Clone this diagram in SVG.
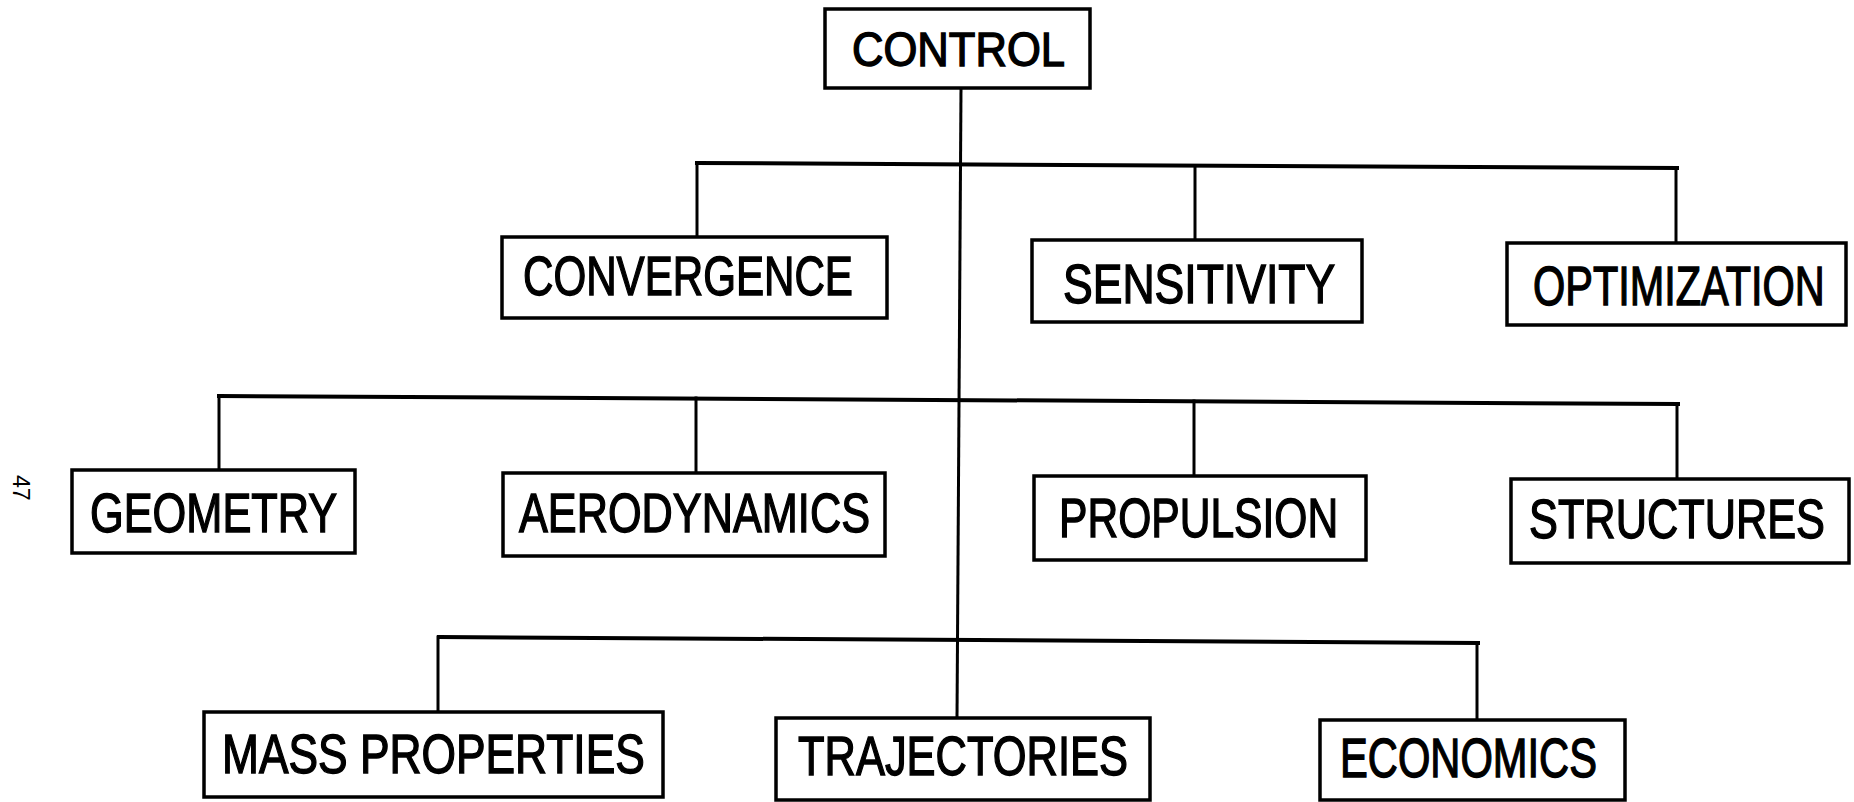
<svg xmlns="http://www.w3.org/2000/svg" width="1854" height="802" viewBox="0 0 1854 802">
<style>
.box{fill:#fff;stroke:#000;stroke-width:3.5}
.lbl{font-family:"Liberation Sans",Arial,sans-serif;font-size:55px;fill:#000;stroke:#000;stroke-width:1.4}
.ln{stroke:#000;stroke-width:3;fill:none;stroke-linecap:square}
.bus{stroke:#000;stroke-width:4;fill:none;stroke-linecap:square}
.pg{font-family:"Liberation Sans",Arial,sans-serif;font-size:23px;fill:#000}
</style>
<rect width="1854" height="802" fill="#fff"/>
<g id="connectors">
<line class="ln" x1="961" y1="88" x2="957" y2="718"/>
<line class="bus" x1="697" y1="163" x2="1677" y2="168"/>
<line class="ln" x1="697" y1="163" x2="697" y2="237"/>
<line class="ln" x1="1195" y1="166" x2="1195" y2="240"/>
<line class="ln" x1="1676" y1="168" x2="1676" y2="243"/>
<line class="bus" x1="219" y1="396" x2="1678" y2="404"/>
<line class="ln" x1="219" y1="396" x2="219" y2="470"/>
<line class="ln" x1="696" y1="398" x2="696" y2="473"/>
<line class="ln" x1="1194" y1="401" x2="1194" y2="476"/>
<line class="ln" x1="1677" y1="404" x2="1677" y2="479"/>
<line class="bus" x1="439" y1="637" x2="1478" y2="643"/>
<line class="ln" x1="438" y1="637" x2="438" y2="712"/>
<line class="ln" x1="1477" y1="643" x2="1477" y2="720"/>
</g>
<g id="control"><rect class="box" x="825" y="9" width="265" height="79"/><text class="lbl" style="font-size:48px" transform="translate(852,66) scale(0.9,1)" textLength="236.7" lengthAdjust="spacingAndGlyphs">CONTROL</text></g>
<g id="convergence"><rect class="box" x="502" y="237" width="385" height="81"/><text class="lbl" transform="translate(523,295) scale(0.78,1)" textLength="423" lengthAdjust="spacingAndGlyphs">CONVERGENCE</text></g>
<g id="sensitivity"><rect class="box" x="1032" y="240" width="330" height="82"/><text class="lbl" transform="translate(1063,303) scale(0.78,1)" textLength="349" lengthAdjust="spacingAndGlyphs">SENSITIVITY</text></g>
<g id="optimization"><rect class="box" x="1507" y="243" width="339" height="82"/><text class="lbl" transform="translate(1533,305) scale(0.78,1)" textLength="374" lengthAdjust="spacingAndGlyphs">OPTIMIZATION</text></g>
<g id="geometry"><rect class="box" x="72" y="470" width="283" height="83"/><text class="lbl" transform="translate(90,532) scale(0.78,1)" textLength="317" lengthAdjust="spacingAndGlyphs">GEOMETRY</text></g>
<g id="aerodynamics"><rect class="box" x="503" y="473" width="382" height="83"/><text class="lbl" transform="translate(519,532) scale(0.78,1)" textLength="450" lengthAdjust="spacingAndGlyphs">AERODYNAMICS</text></g>
<g id="propulsion"><rect class="box" x="1034" y="476" width="332" height="84"/><text class="lbl" transform="translate(1059,537) scale(0.78,1)" textLength="358" lengthAdjust="spacingAndGlyphs">PROPULSION</text></g>
<g id="structures"><rect class="box" x="1511" y="479" width="338" height="84"/><text class="lbl" transform="translate(1529,538) scale(0.78,1)" textLength="379.5" lengthAdjust="spacingAndGlyphs">STRUCTURES</text></g>
<g id="mass-properties"><rect class="box" x="204" y="712" width="459" height="85"/><text class="lbl" transform="translate(222,773) scale(0.78,1)" textLength="542" lengthAdjust="spacingAndGlyphs">MASS PROPERTIES</text></g>
<g id="trajectories"><rect class="box" x="776" y="718" width="374" height="82"/><text class="lbl" transform="translate(798,775) scale(0.78,1)" textLength="423" lengthAdjust="spacingAndGlyphs">TRAJECTORIES</text></g>
<g id="economics"><rect class="box" x="1320" y="720" width="305" height="80"/><text class="lbl" transform="translate(1340,777) scale(0.78,1)" textLength="329.5" lengthAdjust="spacingAndGlyphs">ECONOMICS</text></g>
<text class="pg" transform="translate(13,475) rotate(90)">47</text>
</svg>
